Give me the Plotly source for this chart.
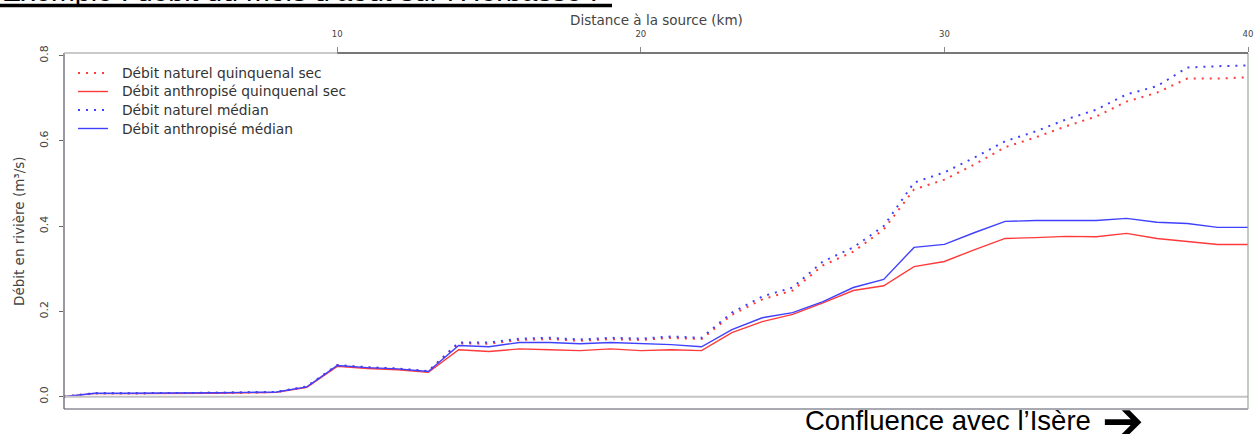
import plotly.graph_objects as go

# ---- data ----
distance_km = list(range(1, 41))

naturel_quinquenal = [0.0, 0.008, 0.008, 0.008, 0.009, 0.009, 0.010, 0.011, 0.023, 0.073,
                      0.068, 0.065, 0.059, 0.125, 0.124, 0.133, 0.135, 0.131, 0.135, 0.133,
                      0.138, 0.135, 0.192, 0.228, 0.249, 0.308, 0.340, 0.392, 0.486, 0.509,
                      0.545, 0.585, 0.608, 0.634, 0.657, 0.692, 0.713, 0.746, 0.746, 0.749]
anthropise_quinquenal = [0.0, 0.007, 0.007, 0.007, 0.008, 0.008, 0.009, 0.010, 0.022, 0.071,
                         0.066, 0.063, 0.057, 0.110, 0.106, 0.112, 0.110, 0.108, 0.112, 0.108,
                         0.110, 0.108, 0.150, 0.176, 0.193, 0.220, 0.249, 0.260, 0.305, 0.317,
                         0.345, 0.371, 0.373, 0.376, 0.375, 0.383, 0.371, 0.364, 0.357, 0.357]
naturel_median = [0.0, 0.008, 0.008, 0.008, 0.009, 0.009, 0.010, 0.011, 0.024, 0.074,
                  0.069, 0.066, 0.060, 0.127, 0.127, 0.136, 0.138, 0.134, 0.138, 0.136,
                  0.141, 0.138, 0.197, 0.235, 0.256, 0.317, 0.350, 0.400, 0.502, 0.526,
                  0.561, 0.599, 0.622, 0.650, 0.673, 0.709, 0.728, 0.772, 0.775, 0.777]
anthropise_median = [0.0, 0.008, 0.008, 0.008, 0.009, 0.009, 0.010, 0.011, 0.023, 0.073,
                     0.068, 0.065, 0.059, 0.120, 0.117, 0.127, 0.127, 0.124, 0.127, 0.124,
                     0.122, 0.117, 0.157, 0.185, 0.197, 0.223, 0.256, 0.275, 0.350, 0.357,
                     0.385, 0.411, 0.413, 0.413, 0.413, 0.418, 0.409, 0.406, 0.397, 0.397]

series_names = ["Débit naturel quinquenal sec", "Débit anthropisé quinquenal sec",
                "Débit naturel médian", "Débit anthropisé médian"]
x_ticks = [10, 20, 30, 40]
y_ticks = [0.0, 0.2, 0.4, 0.6, 0.8]
y_tick_labels = ["0.0", "0.2", "0.4", "0.6", "0.8"]

RED = "#ff3a3a"
BLUE = "#4040ff"
DOT = "2px,6px"
CHART_FONT = "DejaVu Sans"
GREY_TXT = "#444444"

# plot area in page pixels
L, R, T, B = 64, 1248, 53, 409
W, H = R - L, B - T


def px(x):
    return (x - L) / W


def py(y):
    return (B - y) / H


fig = go.Figure()
styles = [(RED, DOT, 2), (RED, "solid", 1.4), (BLUE, DOT, 2), (BLUE, "solid", 1.4)]
all_series = [naturel_quinquenal, anthropise_quinquenal, naturel_median, anthropise_median]
for name, ys, (col, dash, w) in zip(series_names, all_series, styles):
    fig.add_trace(go.Scatter(x=distance_km, y=ys, mode="lines", name=name, showlegend=False,
                             line=dict(color=col, dash=dash, width=w)))

fig.update_layout(
    width=1255, height=439,
    margin=dict(l=L, r=1255 - R, t=T, b=439 - B),
    paper_bgcolor="white", plot_bgcolor="white",
    font=dict(family=CHART_FONT, size=10, color=GREY_TXT),
    showlegend=False,
    xaxis=dict(range=[1, 40], side="top", tickvals=x_ticks, ticktext=[str(t) for t in x_ticks],
               ticks="outside", ticklen=5, tickcolor="#888888", showgrid=False, zeroline=False,
               showline=False, automargin=False, tickfont=dict(size=8.5, color=GREY_TXT),
               ticklabelstandoff=7),
    yaxis=dict(range=[-0.029, 0.806], tickvals=y_ticks, ticktext=y_tick_labels, tickangle=-90,
               ticks="outside", ticklen=4, tickcolor="#666666", showgrid=False, zeroline=False,
               showline=False, automargin=False, tickfont=dict(size=11, color=GREY_TXT),
               ticklabelstandoff=7),
)

# horizontal reference line at 0
fig.add_shape(type="line", xref="paper", yref="y", x0=0, x1=1, y0=0, y1=0,
              line=dict(color="#c4c4c4", width=2))
# frame
fig.add_shape(type="line", xref="paper", yref="paper", x0=0, x1=0, y0=0, y1=1,
              line=dict(color="#555566", width=1.2))
fig.add_shape(type="line", xref="paper", yref="paper", x0=0, x1=1, y0=0, y1=0,
              line=dict(color="#555566", width=1.2))
fig.add_shape(type="line", xref="paper", yref="paper", x0=1, x1=1, y0=0, y1=1,
              line=dict(color="#9aa89a", width=1.2))
fig.add_shape(type="line", xref="paper", yref="paper", x0=0, x1=1, y0=1, y1=1,
              line=dict(color="#b8b8b8", width=1.5))
fig.add_shape(type="line", xref="x", yref="paper", x0=10, x1=40, y0=1, y1=1,
              line=dict(color="#777777", width=2))

# legend (drawn in the top-left corner of the plot)
legend_rows = [73, 91.5, 110, 128.5]
for name, (col, dash, w), yrow in zip(series_names, styles, legend_rows):
    fig.add_shape(type="line", xref="paper", yref="paper", x0=px(78), x1=px(108),
                  y0=py(yrow), y1=py(yrow), line=dict(color=col, dash=dash, width=w))
    fig.add_annotation(text=name, xref="paper", yref="paper", x=px(120), y=py(yrow),
                       xanchor="left", yanchor="middle", showarrow=False,
                       font=dict(family=CHART_FONT, size=13.8, color="#333333"))

# axis titles
fig.add_annotation(text="Distance à la source (km)", xref="paper", yref="paper",
                   x=0.5, y=py(20), xanchor="center", yanchor="middle", showarrow=False,
                   font=dict(family=CHART_FONT, size=13.5, color=GREY_TXT))
fig.add_annotation(text="Débit en rivière (m³/s)", xref="paper", yref="paper",
                   x=px(19), y=py(231), xanchor="center", yanchor="middle",
                   textangle=-90, showarrow=False,
                   font=dict(family=CHART_FONT, size=13.5, color=GREY_TXT))

# heading (cut off at the top of the page) and underline
fig.add_annotation(text="Exemple : débit du mois d’août sur l’Herbasse :", xref="paper", yref="paper",
                   x=px(0), y=py(-9), xanchor="left", yanchor="middle",
                   showarrow=False, font=dict(family="Liberation Sans", size=28.5, color="black"))
fig.add_shape(type="line", xref="paper", yref="paper", x0=px(0), x1=px(612),
              y0=py(5.5), y1=py(5.5), line=dict(color="black", width=3.5))

# bottom note
fig.add_annotation(text="Confluence avec l’Isère", xref="paper", yref="paper",
                   x=px(803), y=py(420), xanchor="left", yanchor="middle",
                   showarrow=False, font=dict(family="Liberation Sans", size=27.5, color="black"))
fig.add_annotation(text="➔", xref="paper", yref="paper",
                   x=px(1100), y=py(421), xanchor="left", yanchor="middle",
                   showarrow=False, font=dict(family="DejaVu Sans", size=50, color="black"))

fig.write_html("out.html", config={"displayModeBar": False},
               post_script="document.body.style.margin='0px';")
